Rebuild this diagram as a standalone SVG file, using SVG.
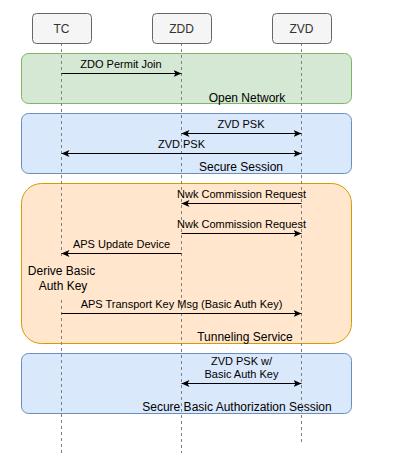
<svg xmlns="http://www.w3.org/2000/svg" width="407" height="461" viewBox="0 0 407 461">
<style>
text{font-family:"Liberation Sans",Arial,sans-serif;fill:#000;text-anchor:middle;dominant-baseline:central}
.hdr rect{fill:#f5f5f5;stroke:#666666;stroke-width:1}
.hdr text{fill:#333333;font-size:12px}
.life{stroke:#808080;stroke-width:1;stroke-dasharray:3 3;fill:none}
.msg{stroke:#000;stroke-width:1;fill:none}
.m{font-size:11px}
.l{font-size:12px}
</style>
<defs>
<marker id="ah" viewBox="0 0 8 7" refX="8" refY="3.5" markerWidth="8" markerHeight="7" markerUnits="userSpaceOnUse" orient="auto-start-reverse">
<path d="M0,0 L8,3.5 L0,7 L2,3.5 Z" fill="#000"/>
</marker>
</defs>
<g id="frames">
<g id="open-network"><rect x="21.5" y="53.5" width="330" height="50" rx="7" fill="#d5e8d4" stroke="#82b366"/><text class="l" x="247" y="98">Open Network</text></g>
<g id="secure-session"><rect x="21.5" y="113.5" width="330" height="60" rx="7" fill="#dae8fc" stroke="#6c8ebf"/><text class="l" x="241" y="167">Secure Session</text></g>
<g id="tunneling-service"><rect x="21.5" y="183.5" width="330" height="160" rx="20" fill="#ffe6cc" stroke="#d79b00"/><text class="l" x="245" y="337">Tunneling Service</text></g>
<g id="secure-basic"><rect x="21.5" y="353.5" width="330" height="60" rx="7" fill="#dae8fc" stroke="#6c8ebf"/><text class="l" x="237" y="407">Secure Basic Authorization Session</text></g>
</g>
<g id="lifelines">
<path class="life" d="M61.5,43 V257 M61.5,300 V453"/>
<path class="life" d="M181.5,43 V453"/>
<path class="life" d="M301.5,43 V443"/>
</g>
<g id="TC" class="hdr"><rect x="32.5" y="13.5" width="59" height="30" rx="4"/><text x="61.5" y="28.5">TC</text></g>
<g id="ZDD" class="hdr"><rect x="152.5" y="13.5" width="59" height="30" rx="4"/><text x="181.5" y="28.5">ZDD</text></g>
<g id="ZVD" class="hdr"><rect x="272.5" y="13.5" width="59" height="30" rx="4"/><text x="301.5" y="28.5">ZVD</text></g>
<g id="derive"><text class="l" x="61.5" y="271">Derive Basic</text><text class="l" x="63" y="286">Auth Key</text></g>
<g id="connectors">
<path class="msg" marker-end="url(#ah)" d="M61.5,73.5 H181.5"/>
<text class="m" x="121" y="64">ZDO Permit Join</text>
<path class="msg" marker-start="url(#ah)" marker-end="url(#ah)" d="M181.5,133.5 H301.5"/>
<text class="m" x="241" y="124">ZVD PSK</text>
<path class="msg" marker-start="url(#ah)" marker-end="url(#ah)" d="M61.5,153.5 H301.5"/>
<text class="m" x="181.5" y="144">ZVD PSK</text>
<path class="msg" marker-end="url(#ah)" d="M301.5,203.5 H181.5"/>
<text class="m" x="241.5" y="194">Nwk Commission Request</text>
<path class="msg" marker-end="url(#ah)" d="M181.5,233.5 H301.5"/>
<text class="m" x="241.5" y="224">Nwk Commission Request</text>
<path class="msg" marker-end="url(#ah)" d="M181.5,253.5 H61.5"/>
<text class="m" x="121.5" y="244">APS Update Device</text>
<path class="msg" marker-end="url(#ah)" d="M61.5,313.5 H301.5"/>
<text class="m" x="181.5" y="304">APS Transport Key Msg (Basic Auth Key)</text>
<path class="msg" marker-start="url(#ah)" marker-end="url(#ah)" d="M181.5,383.5 H301.5"/>
<text class="m" x="241.5" y="361">ZVD PSK w/</text>
<text class="m" x="241.5" y="374">Basic Auth Key</text>
</g>
</svg>
